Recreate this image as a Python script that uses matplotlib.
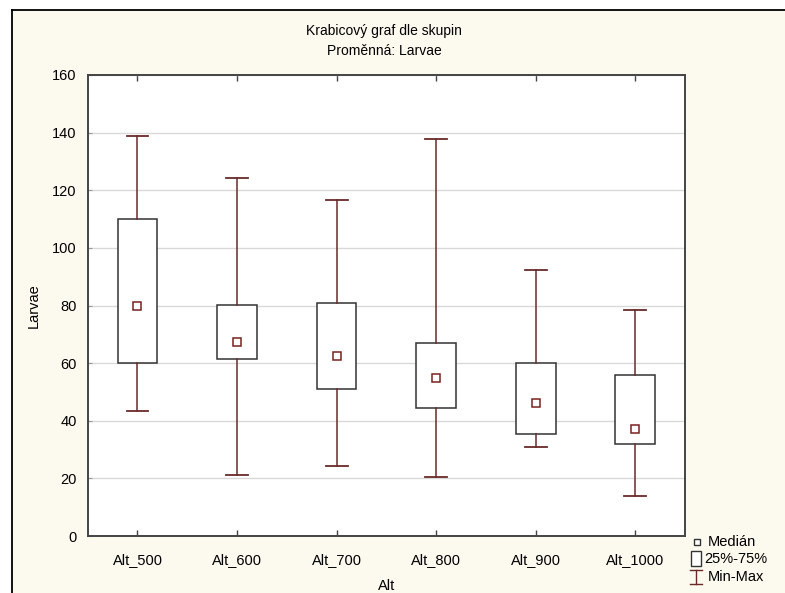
import numpy as np
import matplotlib
matplotlib.use('Agg')
import matplotlib.pyplot as plt
from matplotlib.patches import Rectangle
from matplotlib.lines import Line2D

plt.rcParams['font.family'] = ['Liberation Sans', 'DejaVu Sans']
plt.rcParams['font.size'] = 10

groups = ['Alt_500', 'Alt_600', 'Alt_700', 'Alt_800', 'Alt_900', 'Alt_1000']
mins = [43.5, 21.2, 24.4, 20.4, 31.0, 13.9]
q1 = [60.0, 61.3, 51.0, 44.3, 35.3, 31.9]
medians = [79.9, 67.5, 62.6, 54.7, 46.1, 37.0]
q3 = [110.0, 80.2, 80.7, 67.1, 60.1, 56.0]
maxs = [138.9, 124.2, 116.7, 137.7, 92.2, 78.3]

W, H = 785, 593
cream = '#fcf9ef'
box_col = '#333333'
whisk_col = '#6a2a2a'
med_col = '#7a2020'

fig = plt.figure(figsize=(W / 100, H / 100), dpi=100, facecolor='white')


def fx(px):
    return px / W


def fy(py):
    return 1 - py / H


# cream panel with black border on top/left only
fig.add_artist(Rectangle((fx(12), 0), 1, fy(10), transform=fig.transFigure,
                         facecolor=cream, edgecolor='none', zorder=-10))
fig.add_artist(Line2D([fx(12), 1], [fy(10), fy(10)], color='black', lw=1.3,
                      transform=fig.transFigure))
fig.add_artist(Line2D([fx(12), fx(12)], [0, fy(10)], color='black', lw=1.3,
                      transform=fig.transFigure))

ax = fig.add_axes([fx(87.7), fy(536), (685 - 87.7) / W, (536 - 75) / H])
ax.set_facecolor('white')

stats = []
for i, g in enumerate(groups):
    stats.append({'label': g, 'whislo': mins[i], 'q1': q1[i], 'med': medians[i],
                  'q3': q3[i], 'whishi': maxs[i], 'mean': medians[i], 'fliers': []})

x = np.arange(len(groups))
ax.bxp(stats, positions=x, widths=0.4, patch_artist=True, showmeans=True,
       meanline=False, showfliers=False,
       boxprops=dict(facecolor='white', edgecolor=box_col, lw=1.1),
       whiskerprops=dict(color=whisk_col, lw=1.1),
       capprops=dict(color=whisk_col, lw=1.3),
       capwidths=0.22,
       medianprops=dict(linestyle='none'),
       meanprops=dict(marker='s', markersize=5.5, markerfacecolor='white',
                      markeredgecolor=med_col, markeredgewidth=1.1),
       zorder=3)

ax.set_xlim(-0.5, 5.5)
ax.set_ylim(0, 160)
ax.set_yticks(np.arange(0, 161, 20))
ax.set_xticks(x)
ax.set_xticklabels(groups)
ax.yaxis.grid(True, color='#d9d9d9', lw=1)
ax.set_axisbelow(True)
ax.tick_params(axis='x', direction='in', length=4, top=True, width=1, color='#444444', pad=12,
               labelsize=10.5)
ax.tick_params(axis='y', direction='in', length=3, width=0.8, color='#999999', pad=8,
               labelsize=10.5)
for s in ax.spines.values():
    s.set_color('#444444')
    s.set_linewidth(1.4)

ax.set_xlabel('Alt', labelpad=9, fontsize=10.5)
ax.set_ylabel('Larvae', labelpad=8, fontsize=10.5)

fig.text(fx(384), fy(31), 'Krabicový graf dle skupin', ha='center', va='center')
fig.text(fx(384), fy(51), 'Proměnná: Larvae', ha='center', va='center')

# legend
fig.add_artist(Line2D([fx(697)], [fy(542)], marker='s', markersize=5, ls='none',
                      markerfacecolor='white', markeredgecolor='#333333',
                      markeredgewidth=1, transform=fig.transFigure))
fig.text(fx(708), fy(542), 'Medián', va='center', ha='left', fontsize=10.5)
fig.add_artist(Rectangle((fx(691), fy(566)), 10 / W, 15 / H, transform=fig.transFigure,
                         facecolor='white', edgecolor='#333333', lw=1))
fig.text(fx(704), fy(559), '25%-75%', va='center', ha='left', fontsize=10.5)
fig.add_artist(Line2D([fx(696), fx(696)], [fy(570), fy(584)], color=whisk_col, lw=1,
                      transform=fig.transFigure))
fig.add_artist(Line2D([fx(690), fx(702)], [fy(570), fy(570)], color=whisk_col, lw=1,
                      transform=fig.transFigure))
fig.add_artist(Line2D([fx(690), fx(702)], [fy(584), fy(584)], color=whisk_col, lw=1,
                      transform=fig.transFigure))
fig.text(fx(708), fy(577), 'Min-Max', va='center', ha='left', fontsize=10.5)

fig.savefig('out.png', dpi=100, facecolor=fig.get_facecolor())
